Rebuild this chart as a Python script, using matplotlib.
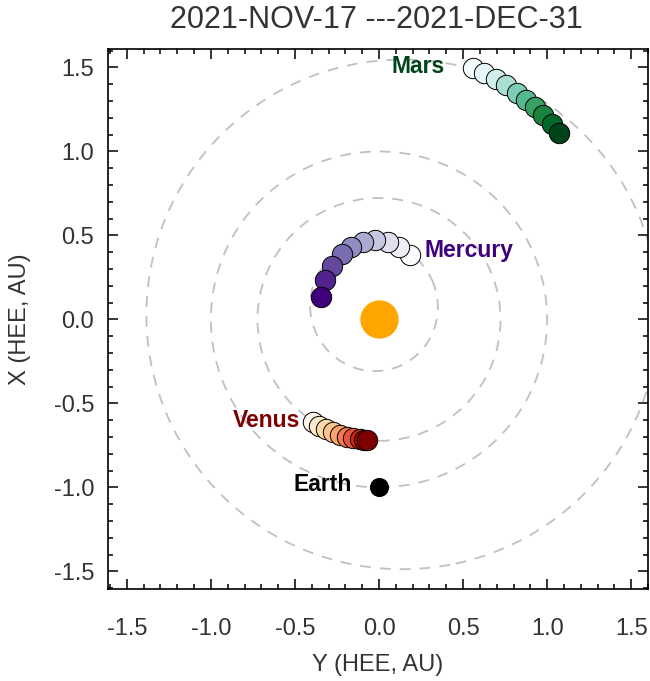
import numpy as np
import matplotlib
matplotlib.use('Agg')
import matplotlib.pyplot as plt
from matplotlib.patches import Ellipse
from matplotlib.ticker import MultipleLocator

plt.rcParams['font.family'] = ['Liberation Sans', 'DejaVu Sans']

title = '2021-NOV-17 ---2021-DEC-31'

# planet positions (HEE, AU), one point per date, earliest first
mercury_y = [0.186, 0.119, 0.052, -0.021, -0.094, -0.165, -0.223, -0.280, -0.324, -0.347]
mercury_x = [0.383, 0.434, 0.462, 0.472, 0.462, 0.434, 0.387, 0.319, 0.234, 0.132]
venus_y = [-0.392, -0.355, -0.313, -0.273, -0.232, -0.192, -0.152, -0.115, -0.090, -0.070]
venus_x = [-0.609, -0.634, -0.655, -0.672, -0.687, -0.698, -0.706, -0.713, -0.717, -0.719]
mars_y = [0.560, 0.626, 0.693, 0.756, 0.818, 0.873, 0.929, 0.977, 1.027, 1.071]
mars_x = [1.498, 1.468, 1.434, 1.394, 1.351, 1.306, 1.264, 1.217, 1.164, 1.111]
earth_y, earth_x = 0.0, -1.0

# orbits: centre (y, x), semi-axes, tilt in degrees
orbit_cy = [-0.03, 0.0, 0.0, 0.14]
orbit_cx = [0.078, 0.0, 0.0, 0.03]
orbit_a = [0.387, 0.723, 1.0, 1.524]
orbit_b = [0.379, 0.723, 1.0, 1.517]
orbit_tilt = [111, 0, 0, 12]

fig = plt.figure(figsize=(6.5, 6.81), dpi=100)
ax = fig.add_axes([108 / 650, 92 / 681, 540 / 650, 540 / 681])

for cy, cx, a, b, t in zip(orbit_cy, orbit_cx, orbit_a, orbit_b, orbit_tilt):
    ax.add_patch(Ellipse((cy, cx), 2 * a, 2 * b, angle=t, fill=False,
                         ec='#c0c0c0', lw=1.3, ls=(0, (6, 5)), zorder=1))

ax.scatter([0], [0], s=760, color='#ffa500', lw=0, zorder=2)
ax.scatter([earth_y], [earth_x], s=190, color='black', lw=0, zorder=2)

planets = [
    (mercury_y, mercury_x, 'Purples'),
    (venus_y, venus_x, 'OrRd'),
    (mars_y, mars_x, 'BuGn'),
]
for ys, xs, cm in planets:
    cols = plt.get_cmap(cm)(np.linspace(0, 1, len(ys)))
    for i in range(len(ys)):
        ax.scatter(ys[i], xs[i], s=215, color=cols[i], edgecolor='black',
                   lw=0.7, zorder=3 + i)

lab = dict(fontsize=16.5, fontweight='bold', va='center')
ax.text(0.393, 1.508, 'Mars', color='#00441b', ha='right', **lab)
ax.text(0.268, 0.41, 'Mercury', color='#3f007d', ha='left', **lab)
ax.text(-0.47, -0.60, 'Venus', color='#7f0000', ha='right', **lab)
ax.text(-0.16, -0.98, 'Earth', color='black', ha='right', **lab)

ax.set_xlim(-1.612, 1.60)
ax.set_ylim(-1.605, 1.61)
ax.xaxis.set_major_locator(MultipleLocator(0.5))
ax.yaxis.set_major_locator(MultipleLocator(0.5))
ax.xaxis.set_minor_locator(MultipleLocator(0.1))
ax.yaxis.set_minor_locator(MultipleLocator(0.1))
ax.xaxis.set_major_formatter(plt.FormatStrFormatter('%.1f'))
ax.yaxis.set_major_formatter(plt.FormatStrFormatter('%.1f'))
ax.tick_params(which='both', direction='in', top=True, right=True,
               width=1.1, labelsize=17, labelcolor='#333333')
ax.tick_params(which='major', length=7.5)
ax.tick_params(which='minor', length=3.8)
ax.tick_params(axis='x', pad=21)
ax.tick_params(axis='y', pad=10)
for sp in ax.spines.values():
    sp.set_linewidth(1.2)

ax.set_xlabel('Y (HEE, AU)', fontsize=17, color='#333333', labelpad=10)
ax.set_ylabel('X (HEE, AU)', fontsize=17, color='#333333', labelpad=16)
fig.text(0.5795, 1 - 20 / 681, title, fontsize=22, color='#333333',
         ha='center', va='center')

fig.savefig('out.png', dpi=100)
